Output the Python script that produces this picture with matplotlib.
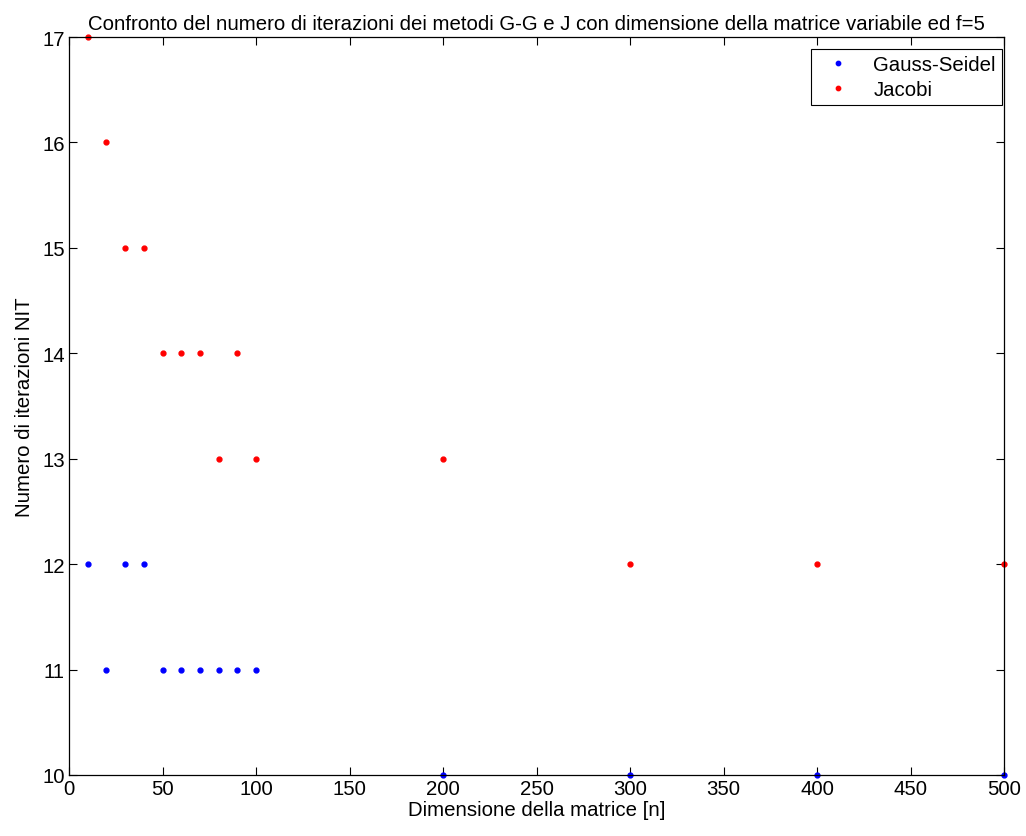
import matplotlib
matplotlib.use("Agg")
import matplotlib.pyplot as plt

plt.rcParams['font.family'] = ['Liberation Sans', 'DejaVu Sans']

n = [10, 20, 30, 40, 50, 60, 70, 80, 90, 100, 200, 300, 400, 500]
nit_gs = [12, 11, 12, 12, 11, 11, 11, 11, 11, 11, 10, 10, 10, 10]
nit_j = [17, 16, 15, 15, 14, 14, 14, 13, 14, 13, 13, 12, 12, 12]

fs = 14.7

fig = plt.figure(figsize=(10.26, 8.37), dpi=100)
ax = fig.add_axes([69 / 1026, 1 - 776 / 837, 935 / 1026, 738 / 837])

ax.plot(n, nit_gs, '.', color='#0000ff', markersize=7, label='Gauss-Seidel', clip_on=False)
ax.plot(n, nit_j, '.', color='#ff0000', markersize=7, label='Jacobi', clip_on=False)

ax.set_xlim(0, 500)
ax.set_ylim(10, 17)
ax.set_xticks(range(0, 501, 50))
ax.set_yticks(range(10, 18))
ax.tick_params(direction='in', top=True, right=True, labelsize=fs, length=6, width=0.8, pad=3)
for s in ax.spines.values():
    s.set_linewidth(0.9)

ax.set_xlabel('Dimensione della matrice [n]', fontsize=fs, labelpad=1)
ax.set_ylabel('Numero di iterazioni NIT', fontsize=fs, labelpad=6)
ax.set_title('Confronto del numero di iterazioni dei metodi G-G e J con dimensione della matrice variabile ed f=5',
             fontsize=fs, pad=6)

leg = ax.legend(loc='upper right', bbox_to_anchor=(1002 / 1026, 1 - 50 / 837),
                bbox_transform=fig.transFigure, fontsize=fs, fancybox=False, framealpha=1,
                edgecolor='black', borderaxespad=0, handlelength=2.0, handletextpad=0.75,
                borderpad=0.3, labelspacing=0.3, markerscale=0.9)
leg.get_frame().set_linewidth(0.8)

fig.savefig('out.png', dpi=100)
